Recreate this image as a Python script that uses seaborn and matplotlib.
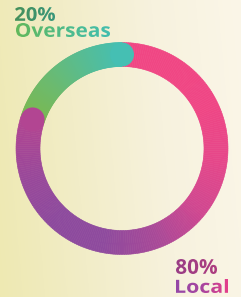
import numpy as np
import matplotlib
matplotlib.use("Agg")
import matplotlib.pyplot as plt
import seaborn as sns
from matplotlib.collections import PolyCollection
from matplotlib.patches import Circle, PathPatch
from matplotlib.textpath import TextPath
from matplotlib.font_manager import FontProperties
from matplotlib.transforms import Affine2D

# data
labels = ["Overseas", "Local"]
shares = [20, 80]
pct_labels = [f"{s}%" for s in shares]

# gradient stops for each segment (start -> end of arc, clockwise drawing order)
overseas_stops = ["#7BB84F", "#6CBA6E", "#58BC92", "#45BFB3"]
local_stops = ["#F04684", "#F04684", "#EF4685", "#E6478A", "#D14790",
               "#A84998", "#8E4A9E", "#8D4A9E", "#9A489A", "#B24592"]

W, H = 241, 297
sns.set_theme(style="white")

fig = plt.figure(figsize=(W / 100, H / 100), dpi=100)
ax = fig.add_axes([0, 0, 1, 1])
ax.set_xlim(0, W)
ax.set_ylim(H, 0)
ax.axis("off")

# cream background, yellower on the left
bg = sns.blend_palette(["#EEE9B2", "#F2EDC8", "#F7F2DE", "#FBF6E8"], as_cmap=True)
gx, gy = np.meshgrid(np.linspace(0, 1, 300), np.linspace(0, 1, 80))
ax.imshow(np.clip(gx * 0.9 + (1 - gy) * 0.1, 0, 1), cmap=bg, extent=[0, W, H, 0],
          aspect="auto", zorder=0)

cx, cy = 122, 148.5
r_out, r_in = 106, 82
r_mid, half = (r_out + r_in) / 2, (r_out - r_in) / 2


def ring_xy(theta, r):
    t = np.deg2rad(theta)
    return cx + r * np.cos(t), cy - r * np.sin(t)


def draw_arc(a0, a1, stops, z):
    n = 240
    th = np.linspace(a0, a1, n + 1)
    cols = sns.blend_palette(stops, n)
    quads = [[ring_xy(th[i], r_in), ring_xy(th[i], r_out),
              ring_xy(th[i + 1], r_out), ring_xy(th[i + 1], r_in)] for i in range(n)]
    ax.add_collection(PolyCollection(quads, facecolors=cols, edgecolors=cols,
                                     linewidths=0.4, zorder=z))
    return cols


total = sum(shares)
span_over = shares[0] / total * 360
span_local = shares[1] / total * 360

# local: from 12 o'clock clockwise, overseas: the rest up to 12 o'clock
local_end = 90 - span_local
over_start = 90 + span_over
c_local = draw_arc(90, local_end, local_stops, 2)
c_over = draw_arc(over_start, 90, overseas_stops, 3)

# rounded end caps
ax.add_patch(Circle(ring_xy(90, r_mid), half, color=c_over[-1], zorder=4, lw=0))
ax.add_patch(Circle(ring_xy(local_end, r_mid), half, color=c_local[-1], zorder=5, lw=0))


def grad_text(s, box, colors):
    x0, x1, ytop, ybot = box
    fp = FontProperties(family="Open Sans", weight="bold")
    tp = TextPath((0, 0), s, size=1, prop=fp)
    ext = tp.get_extents()
    sx = (x1 - x0) / ext.width
    sy = (ybot - ytop) / ext.height
    tr = Affine2D().translate(-ext.x0, -ext.y0).scale(sx, -sy).translate(x0, ybot)
    path = tr.transform_path(tp)
    patch = PathPatch(path, facecolor="none", edgecolor="none", transform=ax.transData)
    ax.add_patch(patch)
    cmap = sns.blend_palette(colors, as_cmap=True)
    im = ax.imshow(np.linspace(0, 1, 200)[None, :], cmap=cmap,
                   extent=[x0 - 1, x1 + 1, ybot + 1, ytop - 1], aspect="auto", zorder=6)
    im.set_clip_path(patch)


grad_text(pct_labels[0], (15, 55, 7, 21), ["#45905A", "#3A977C"])
grad_text(labels[0], (16, 110, 23, 37), ["#62B85A", "#50BB88", "#42BEB0"])
grad_text(pct_labels[1], (176, 217, 259, 274), ["#993D86", "#AE3D80"])
grad_text(labels[1], (176, 228, 279, 293), ["#9448A8", "#A7459F", "#E63F8A"])

ax.set_xlim(0, W)
ax.set_ylim(H, 0)
fig.savefig("out.png", dpi=100)
